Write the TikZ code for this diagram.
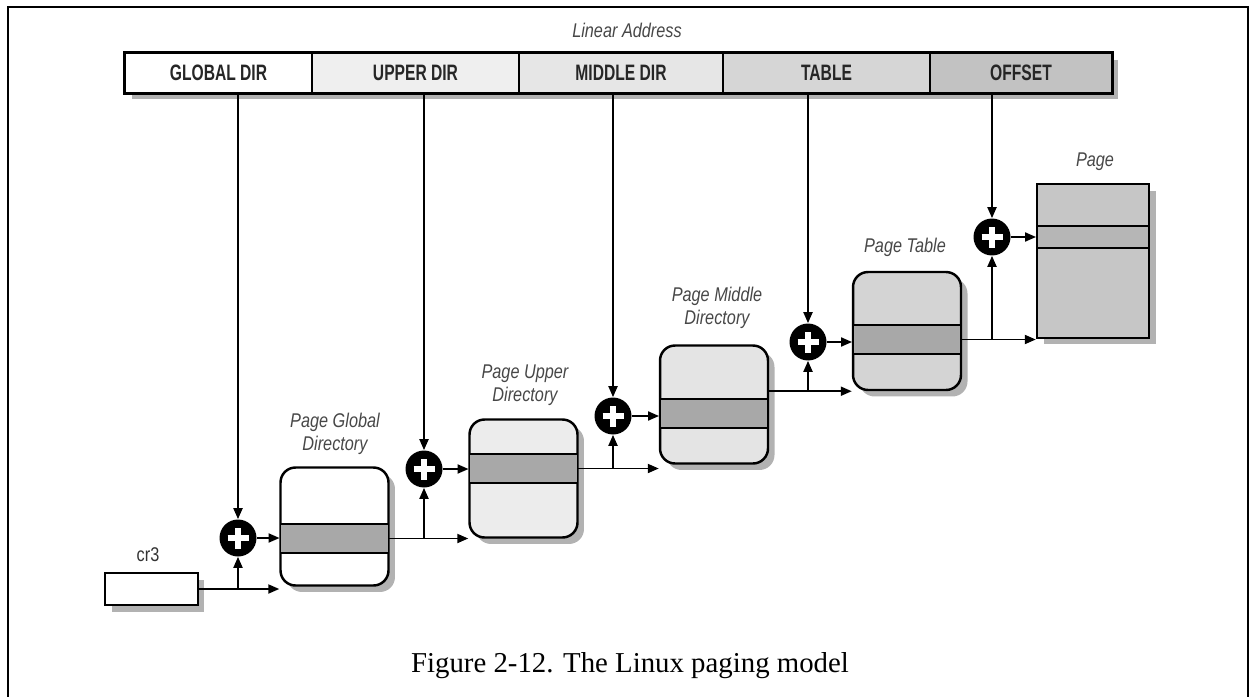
\documentclass[tikz,border=0pt]{standalone}
\usepackage{fontspec}
\setmainfont{Liberation Serif}
\newfontfamily\barfont[FakeStretch=0.70]{Liberation Sans}
\newfontfamily\labfont[FakeStretch=0.82]{Liberation Sans}
\usetikzlibrary{arrows.meta,shadows}
\definecolor{fldupper}{RGB}{239,239,239}
\definecolor{fldmiddle}{RGB}{230,230,230}
\definecolor{fldtable}{RGB}{214,214,214}
\definecolor{fldoffset}{RGB}{194,194,194}
\definecolor{pgupper}{RGB}{236,236,236}
\definecolor{pgmiddle}{RGB}{228,228,228}
\definecolor{pgtable}{RGB}{212,212,212}
\definecolor{pgpage}{RGB}{198,198,198}
\definecolor{bandgray}{RGB}{168,168,168}
\definecolor{pageband}{RGB}{182,182,182}

\begin{document}
\begin{tikzpicture}[x=0.02cm, y=-0.02cm,
    arr/.style={-{Triangle[length=2.2mm,width=1.8mm]}, line width=1.1pt},
    shade/.style={drop shadow={shadow xshift=0.13cm, shadow yshift=-0.13cm, fill=black!55, opacity=0.55}},
    field/.style={draw, line width=0.9pt, minimum height=0.8cm, inner sep=0pt, text=black!85,
                  font=\barfont\bfseries\fontsize{12.7}{14}\selectfont},
    tbl/.style={draw, line width=1.4pt, rounded corners=0.3cm, minimum width=2.16cm,
                minimum height=2.36cm, inner sep=0pt, shade},
    band/.style={draw, line width=1.1pt, fill=bandgray, minimum width=2.16cm,
                 minimum height=0.58cm, inner sep=0pt},
    adder/.style={circle, fill=black, minimum size=0.74cm, inner sep=0pt,
                  path picture={\draw[white, line width=0.13cm]
                    (path picture bounding box.center) +(-0.21cm,0) -- +(0.21cm,0)
                    (path picture bounding box.center) +(0,-0.21cm) -- +(0,0.21cm);}},
    lbl/.style={font=\labfont\itshape\fontsize{11.3}{13}\selectfont, text=black!72, align=center}]
    \useasboundingbox (0,0) rectangle (1250,696);
    \draw[line width=1.1pt] (8,700) -- (8,7) -- (1248,7) -- (1248,700);

    % linear address
    \node[lbl] (linaddr) at (627,30) {Linear Address};
    \node[fill=white, minimum width=19.74cm, minimum height=0.8cm, shade] (bar) at (618.5,73) {};
    \node[field, fill=white, minimum width=3.74cm] (gdir) at (218.5,73) {GLOBAL DIR};
    \node[field, fill=fldupper, minimum width=4.14cm] (udir) at (415.5,73) {UPPER DIR};
    \node[field, fill=fldmiddle, minimum width=4.08cm] (mdir) at (621,73) {MIDDLE DIR};
    \node[field, fill=fldtable, minimum width=4.14cm] (tdir) at (826.5,73) {TABLE};
    \node[field, fill=fldoffset, minimum width=3.64cm] (odir) at (1021,73) {OFFSET};
    \draw[line width=1.6pt] (bar.north west) rectangle (bar.south east);

    % tables
    \node[draw, line width=1.6pt, fill=white, minimum width=1.86cm, minimum height=0.64cm, shade] (cr3) at (151.5,589) {};
    \node[tbl, fill=white] (pgd) at (334.5,526.5) {};
    \node[band] (pgdb) at (334.5,538.5) {};
    \node[tbl, fill=pgupper] (pud) at (523.5,478.5) {};
    \node[band] (pudb) at (523.5,468.5) {};
    \node[tbl, fill=pgmiddle] (pmd) at (714,404.5) {};
    \node[band] (pmdb) at (714,413.5) {};
    \node[tbl, fill=pgtable] (pt) at (907,331) {};
    \node[band] (ptb) at (907,339.5) {};
    \node[draw, line width=1.4pt, fill=pgpage, minimum width=2.24cm, minimum height=3.08cm, shade] (page) at (1093,261) {};
    \node[band, fill=pageband, minimum width=2.24cm, minimum height=0.44cm] (pageb) at (1093,237) {};

    \node[font=\labfont\fontsize{11.3}{13}\selectfont, text=black!80] (cr3l) at (148,555) {cr3};
    \node[lbl] (pgdl) at (335,433.5) {Page Global\\Directory};
    \node[lbl] (pudl) at (525,385.5) {Page Upper\\Directory};
    \node[lbl] (pmdl) at (717,308) {Page Middle\\Directory};
    \node[lbl] (ptl) at (905,247) {Page Table};
    \node[lbl] (pagel) at (1095,162) {Page};

    % adders
    \node[adder] (p1) at (238,538) {};
    \node[adder] (p2) at (424,469) {};
    \node[adder] (p3) at (613,416) {};
    \node[adder] (p4) at (808,342) {};
    \node[adder] (p5) at (992,237) {};

    \draw[arr] (p1.north |- gdir.south) -- (p1.north);
    \draw[arr] (p2.north |- udir.south) -- (p2.north);
    \draw[arr] (p3.north |- mdir.south) -- (p3.north);
    \draw[arr] (p4.north |- tdir.south) -- (p4.north);
    \draw[arr] (p5.north |- odir.south) -- (p5.north);

    \draw[arr] (p1.east) -- (p1.east -| pgdb.west);
    \draw[arr] (p2.east) -- (p2.east -| pudb.west);
    \draw[arr] (p3.east) -- (p3.east -| pmdb.west);
    \draw[arr] (p4.east) -- (p4.east -| ptb.west);
    \draw[arr] (p5.east) -- (p5.east -| pageb.west);

    \draw[arr] (cr3.east) -- (cr3.east -| pgd.west);
    \draw[arr] (p1.south |- cr3.east) -- (p1.south);
    \draw[arr] (pgdb.east) -- (pgdb.east -| pud.west);
    \draw[arr] (p2.south |- pgdb.east) -- (p2.south);
    \draw[arr] (pudb.east) -- (pudb.east -| pmd.west);
    \draw[arr] (p3.south |- pudb.east) -- (p3.south);
    \draw[arr] (pmd.east |- pt.south) -- (pt.south west);
    \draw[arr] (p4.south |- pt.south) -- (p4.south);
    \draw[arr] (ptb.east) -- (ptb.east -| page.west);
    \draw[arr] (p5.south |- ptb.east) -- (p5.south);

    \node[font=\fontsize{16.4}{19}\selectfont, anchor=base] (caption) at (630,672) {Figure 2-12. The Linux paging model};
\end{tikzpicture}
\end{document}
